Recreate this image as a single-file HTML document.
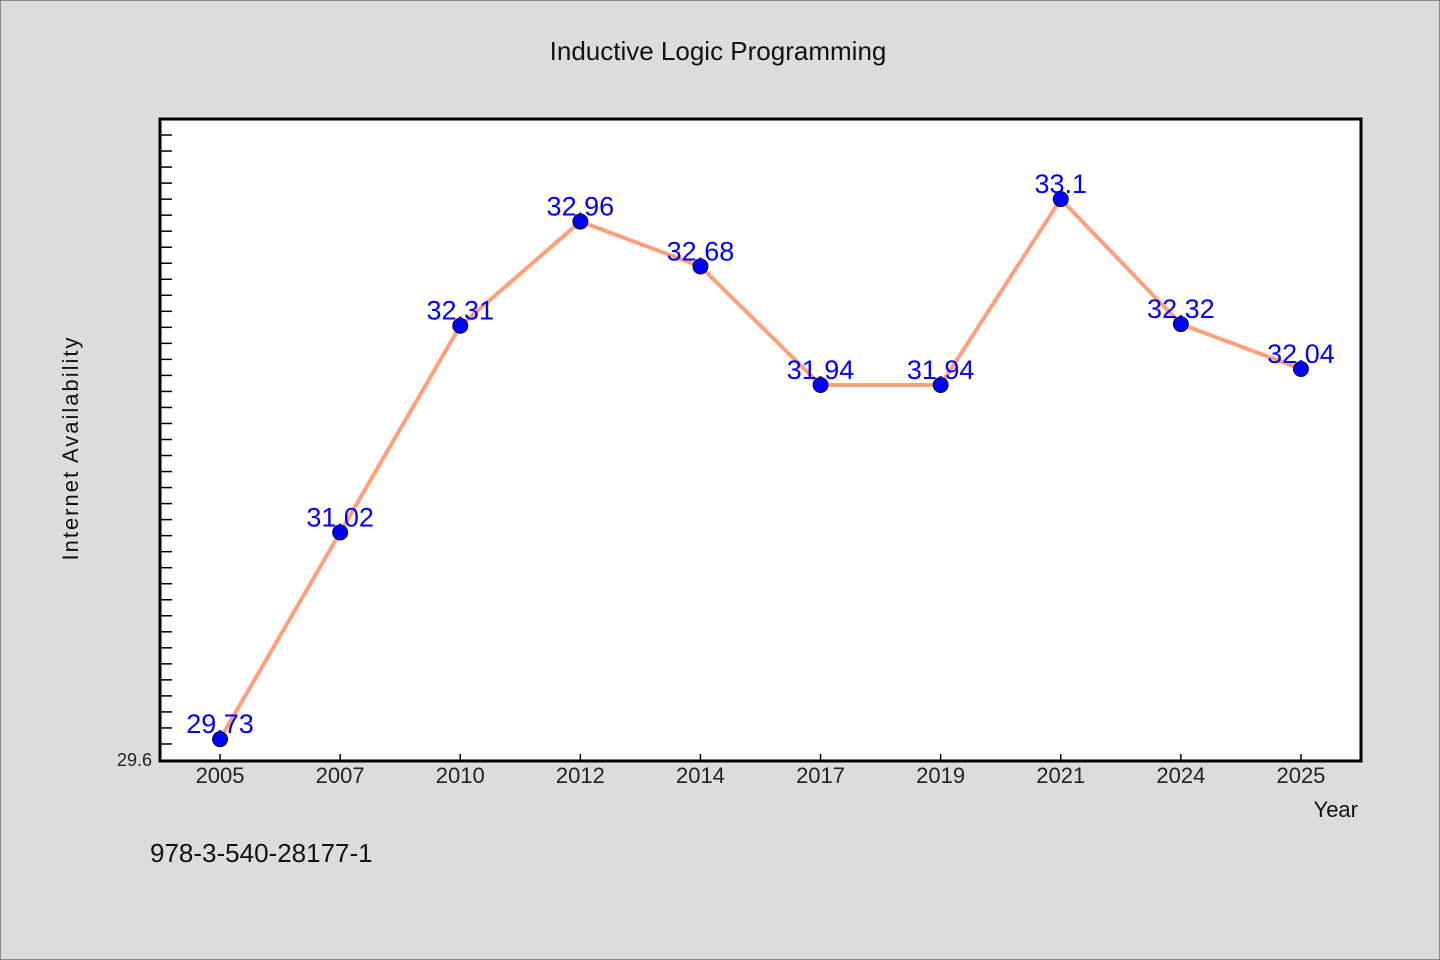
<!DOCTYPE html>
<html><head><meta charset="utf-8"><style>
html,body{margin:0;padding:0;background:#dcdcdc;}
svg{display:block;font-family:"WenQuanYi Zen Hei","Liberation Sans",sans-serif;}
</style></head><body>
<svg width="1440" height="960" viewBox="0 0 1440 960">
<rect x="0.5" y="0.5" width="1439" height="959" fill="#dcdcdc" stroke="#888"/>
<text x="718" y="60" text-anchor="middle" font-size="26" fill="#111">Inductive Logic Programming</text>
<rect x="160" y="119" width="1201" height="642" fill="#fff" stroke="#000" stroke-width="3"/>
<g id="yticks"></g>
<g id="xticks"></g>
<g id="series"></g>
<text x="78" y="448" transform="rotate(-90 78 448)" text-anchor="middle" font-size="22" fill="#111" letter-spacing="2">Internet Availability</text>
<text x="1358" y="817" text-anchor="end" font-size="22" fill="#111">Year</text>
<text x="150" y="862" font-size="26" fill="#111">978-3-540-28177-1</text>
</svg>
<script>
const categories=["2005","2007","2010","2012","2014","2017","2019","2021","2024","2025"];
const values=[29.73,31.02,32.31,32.96,32.68,31.94,31.94,33.1,32.32,32.04];
const yTickLabels=["29.6"];
const yMin=29.6,yMax=33.6;
const L=160,R=1361,T=119,B=760;
const NS="http://www.w3.org/2000/svg";
function x(i){return L+(R-L)/categories.length*(i+0.5);}
function y(v){return B-(v-yMin)/(yMax-yMin)*(B-T);}
function mk(tag,attrs,parent){const e=document.createElementNS(NS,tag);for(const k in attrs)e.setAttribute(k,attrs[k]);parent.appendChild(e);return e;}
const yt=document.getElementById('yticks');
for(let v=yMin+0.1;v<yMax-0.001;v+=0.1){
 const t=mk('line',{x1:L,x2:L+12,y1:y(v),y2:y(v),stroke:'#000','stroke-width':1.5},yt);
 
 
}
yTickLabels.forEach(s=>{
 const t=mk('text',{x:L-8,y:y(parseFloat(s))+6,'text-anchor':'end','font-size':18,fill:'#222'},yt);
 t.textContent=s;
 
 
});
const xt=document.getElementById('xticks');
categories.forEach((c,i)=>{
 const l=mk('line',{x1:x(i),x2:x(i),y1:B,y2:B-6,stroke:'#000','stroke-width':1.5},xt);
 
 
 const t=mk('text',{x:x(i),y:783,'text-anchor':'middle','font-size':22,fill:'#222'},xt);
 t.textContent=c;
 
 
});
const sg=document.getElementById('series');
const pl=mk('polyline',{points:values.map((v,i)=>x(i)+','+y(v)).join(' '),fill:'none',stroke:'#ffa07a','stroke-width':4,'stroke-linejoin':'round'},sg);


values.forEach((v,i)=>{
 const c=mk('circle',{cx:x(i),cy:y(v),r:7.5,fill:'#0000ff',stroke:'#111','stroke-width':1},sg);
 
 
});
values.forEach((v,i)=>{
 const t=mk('text',{x:x(i),y:y(v)-6,'text-anchor':'middle','font-size':27,fill:'#0000ff'},sg);
 t.textContent=String(v);
 
 
});
</script>
</body></html>
